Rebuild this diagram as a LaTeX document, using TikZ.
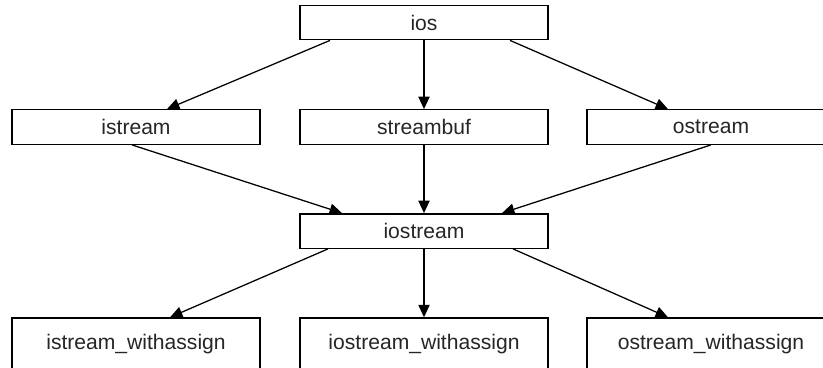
\documentclass[tikz,border=0pt]{standalone}
\usepackage{fontspec}
\setmainfont{Liberation Sans}
\usetikzlibrary{arrows.meta}

\begin{document}
\begin{tikzpicture}[
  x=0.025cm, y=-0.025cm,
  cls/.style={
    draw=black, fill=white, line width=1pt,
    minimum width=6.2cm, minimum height=#1,
    inner sep=0pt, font=\fontsize{15}{18}\selectfont, text=black!85
  },
  cls/.default=0.86cm,
  inherit/.style={
    -{Triangle[length=3.1mm,width=2.8mm]}, line width=0.9pt
  }
]

% page frame (right column and bottom row run off the edge)
\clip (0,0) rectangle (823,368);

% top
\node[cls] (ios) at (424,22.5) {ios};

% second row
\node[cls] (istream)   at (136,127) {istream};
\node[cls] (streambuf) at (424,127) {streambuf};
\node[cls] (ostream)   at (711,127) {ostream};

% middle
\node[cls] (iostream) at (424,231) {iostream};

% bottom row
\node[cls=1.3cm] (iwa)  at (136,344) {istream\_withassign};
\node[cls=1.3cm] (iowa) at (424,344) {iostream\_withassign};
\node[cls=1.3cm] (owa)  at (711,344) {ostream\_withassign};

% Arrows
\draw[inherit] ([xshift=-2.35cm]ios.south) -- ([xshift=0.775cm]istream.north);
\draw[inherit] (ios.south) -- (streambuf.north);
\draw[inherit] ([xshift=2.15cm]ios.south) -- ([xshift=-1.075cm]ostream.north);

\draw[inherit] ([xshift=-0.1cm]istream.south) -- ([xshift=-2.05cm]iostream.north);
\draw[inherit] (streambuf.south) -- (iostream.north);
\draw[inherit] (ostream.south) -- ([xshift=1.95cm]iostream.north);

\draw[inherit] ([xshift=-2.4cm]iostream.south) -- ([xshift=0.85cm]iwa.north);
\draw[inherit] (iostream.south) -- (iowa.north);
\draw[inherit] ([xshift=2.225cm]iostream.south) -- ([xshift=-1.075cm]owa.north);

\end{tikzpicture}
\end{document}
